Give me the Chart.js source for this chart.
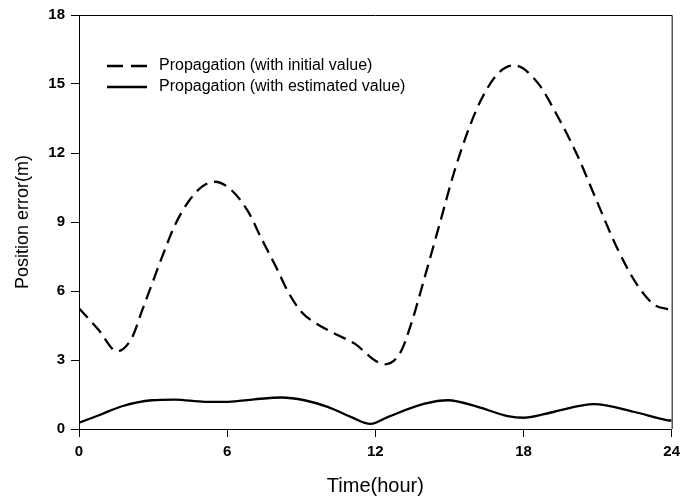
<!DOCTYPE html>
<html>
<head>
<meta charset="utf-8">
<script src="https://cdn.jsdelivr.net/npm/chart.js@4/dist/chart.umd.min.js"></script>
<style>
  html, body { margin: 0; padding: 0; background: #ffffff; }
  #wrap { width: 686px; height: 502px; position: relative; }
</style>
</head>
<body>
<div id="wrap"><canvas id="c" width="686" height="502"></canvas></div>
<script>
// Position error over one day, sampled along each curve (hour, metres)
const initialHours = [0, 0.8, 1.54, 2.15, 2.55, 2.95, 3.35, 3.89, 4.43, 4.97, 5.5, 6.17, 6.85, 7.38, 8.0, 8.5, 9.0, 9.44, 10.38, 11.18, 11.99, 12.39, 13.0, 13.46, 14.0, 14.6, 15.2, 15.8, 16.3, 16.96, 17.63, 18.57, 19.37, 20.18, 20.98, 21.79, 22.59, 23.27, 23.8, 24];
const initialError = [5.25, 4.3, 3.38, 3.98, 5.14, 6.29, 7.44, 8.88, 9.88, 10.53, 10.75, 10.39, 9.45, 8.3, 7.0, 5.9, 5.1, 4.7, 4.13, 3.7, 2.98, 2.81, 3.3, 4.6, 6.6, 8.9, 11.2, 13.1, 14.35, 15.45, 15.81, 15.06, 13.62, 11.9, 9.88, 7.87, 6.29, 5.42, 5.22, 5.2];

const estimatedHours = [0, 0.81, 1.74, 2.95, 3.89, 5.1, 6.04, 7.1, 8.19, 9.13, 10.07, 11.0, 11.81, 12.52, 14.0, 14.94, 16.15, 17.36, 18.03, 19.24, 20.85, 22.46, 23.8, 24];
const estimatedError = [0.27, 0.6, 0.99, 1.25, 1.28, 1.18, 1.18, 1.29, 1.37, 1.25, 0.96, 0.53, 0.22, 0.53, 1.1, 1.25, 0.96, 0.56, 0.49, 0.75, 1.08, 0.75, 0.39, 0.36];

const seriesNames = ['Propagation (with initial value)', 'Propagation (with estimated value)'];
const xTicks = [0, 6, 12, 18, 24];
const yTicks = [0, 3, 6, 9, 12, 15, 18];

const FONT = '"Liberation Sans", Arial, Helvetica, sans-serif';

function toPoints(xs, ys) {
  return xs.map((x, i) => ({ x: x, y: ys[i] }));
}

// Closes the plot box on the top and right sides
const frame = {
  id: 'frame',
  afterDraw(chart) {
    const { ctx, chartArea: a } = chart;
    ctx.save();
    ctx.strokeStyle = '#000';
    ctx.lineWidth = 1;
    ctx.beginPath();
    ctx.moveTo(a.left, a.top + 0.5);
    ctx.lineTo(a.right + 0.5, a.top + 0.5);
    ctx.lineTo(a.right + 0.5, a.bottom);
    ctx.stroke();
    ctx.restore();
  }
};

// Legend drawn inside the plot, upper left
const innerLegend = {
  id: 'innerLegend',
  afterDatasetsDraw(chart) {
    const { ctx } = chart;
    const x0 = 107, x1 = 147, tx = 159;
    const rows = [66, 87];
    ctx.save();
    chart.data.datasets.forEach((ds, i) => {
      const y = rows[i];
      ctx.strokeStyle = ds.borderColor;
      ctx.lineWidth = ds.borderWidth;
      ctx.setLineDash(ds.borderDash ? [16, 8] : []);
      ctx.beginPath();
      ctx.moveTo(x0, y);
      ctx.lineTo(x1, y);
      ctx.stroke();
      ctx.setLineDash([]);
      ctx.fillStyle = '#000';
      ctx.font = '16px ' + FONT;
      ctx.textBaseline = 'middle';
      ctx.textAlign = 'left';
      ctx.fillText(ds.label, tx, y);
    });
    ctx.restore();
  }
};

new Chart(document.getElementById('c'), {
  type: 'line',
  data: {
    datasets: [
      {
        label: seriesNames[0],
        data: toPoints(initialHours, initialError),
        borderColor: '#000',
        borderWidth: 2.3,
        borderDash: [13, 7],
        pointRadius: 0,
        tension: 0.4,
        cubicInterpolationMode: 'monotone',
        fill: false
      },
      {
        label: seriesNames[1],
        data: toPoints(estimatedHours, estimatedError),
        borderColor: '#000',
        borderWidth: 2.3,
        pointRadius: 0,
        tension: 0.4,
        cubicInterpolationMode: 'monotone',
        fill: false
      }
    ]
  },
  options: {
    responsive: false,
    animation: false,
    layout: { padding: { left: 0, right: 11, top: 12, bottom: 0 } },
    plugins: {
      legend: { display: false },
      tooltip: { enabled: false }
    },
    scales: {
      x: {
        type: 'linear',
        min: 0,
        max: 24,
        afterFit(scale) { scale.height = 73; },
        afterBuildTicks(scale) { scale.ticks = xTicks.map(v => ({ value: v })); },
        grid: { display: true, drawOnChartArea: false, drawTicks: true, tickLength: 8, color: '#000', tickColor: '#000' },
        border: { display: true, color: '#000', width: 1 },
        ticks: { color: '#000', padding: 6, maxRotation: 0, font: { family: FONT, size: 15, weight: 'bold' } },
        title: { display: true, text: 'Time(hour)', color: '#000', padding: { top: 0, bottom: 4 }, font: { family: FONT, size: 20 } }
      },
      y: {
        type: 'linear',
        min: 0,
        max: 18,
        afterFit(scale) { scale.width = 79; },
        afterBuildTicks(scale) { scale.ticks = yTicks.map(v => ({ value: v })); },
        grid: { display: true, drawOnChartArea: false, drawTicks: true, tickLength: 8, color: '#000', tickColor: '#000' },
        border: { display: true, color: '#000', width: 1 },
        ticks: { color: '#000', padding: 6, font: { family: FONT, size: 15, weight: 'bold' } },
        title: { display: true, text: 'Position error(m)', color: '#000', padding: { top: 12, bottom: 0 }, font: { family: FONT, size: 18 } }
      }
    }
  },
  plugins: [frame, innerLegend]
});
</script>
</body>
</html>
